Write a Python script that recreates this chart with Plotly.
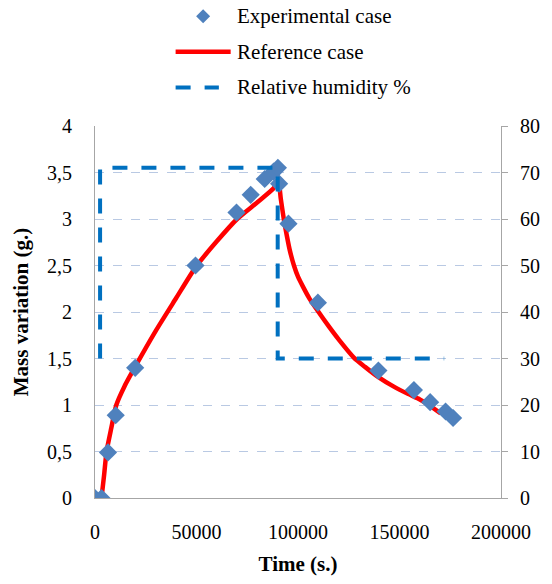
import plotly.graph_objects as go

# Measured mass variation (g.) against time (s.)
exp_time = [0, 3200, 6400, 10200, 19800, 49500, 69700, 76700, 83600, 88000, 90100, 90700,
            95300, 109800, 139600, 157100, 165100, 172700, 176400]
exp_mass = [0, 0, 0.49, 0.89, 1.40, 2.50, 3.07, 3.26, 3.43, 3.51, 3.55, 3.38,
            2.95, 2.10, 1.37, 1.16, 1.03, 0.93, 0.86]

# Simulated reference case
ref_time = [3200, 4500, 5700, 8000, 10500, 14500, 20000, 30000, 40000, 49500, 60000,
            70000, 80000, 88000, 90300, 91500, 93000, 94500, 96000, 98000, 100000, 102500,
            105500, 109800, 115000, 120200, 127500, 133000, 139600, 147000, 154100, 160000,
            163800, 170300]
ref_mass = [0, 0.25, 0.5, 0.75, 1.0, 1.2, 1.42, 1.8, 2.15, 2.48, 2.76,
            3.0, 3.18, 3.33, 3.41, 3.22, 3.0, 2.82, 2.66, 2.50, 2.38, 2.27,
            2.15, 2.01, 1.85, 1.70, 1.51, 1.41, 1.30, 1.20, 1.12, 1.06,
            1.01, 0.91]

# Imposed relative humidity (%)
rh_time = [2500, 2500, 90000, 90000, 172000]
rh_value = [30, 71, 71, 30, 30]

x_ticks = [0, 50000, 100000, 150000, 200000]
x_labels = ["0", "50000", "100000", "150000", "200000"]
y_ticks = [0, 0.5, 1, 1.5, 2, 2.5, 3, 3.5, 4]
y_labels = ["0", "0,5", "1", "1,5", "2", "2,5", "3", "3,5", "4"]
y2_ticks = [0, 10, 20, 30, 40, 50, 60, 70, 80]
y2_labels = ["0", "10", "20", "30", "40", "50", "60", "70", "80"]

SERIF = "'Times New Roman', 'Liberation Serif', serif"
MARKER_BLUE = "#4f81bd"
RH_BLUE = "#0070c0"
AXIS_GREY = "#a6a6a6"
GRID = "#b9c9e3"

fig = go.Figure()

fig.add_trace(go.Scatter(
    x=rh_time, y=rh_value, yaxis="y2", mode="lines",
    line=dict(color=RH_BLUE, width=4, dash="15px,14px"),
    name="Relative humidity %", showlegend=False,
))
fig.add_trace(go.Scatter(
    x=ref_time, y=ref_mass, mode="lines",
    line=dict(color="#ff0000", width=4.5, shape="spline", smoothing=0.6),
    name="Reference case", showlegend=False,
))
fig.add_trace(go.Scatter(
    x=exp_time, y=exp_mass, mode="markers",
    marker=dict(symbol="diamond", size=14, color=MARKER_BLUE),
    name="Experimental case", showlegend=False,
))

# Plot area geometry (pixels) used for the hand-drawn key above the axes
L, R, T, B = 95, 44, 126, 82
W, H = 552, 584
pw, ph = W - L - R, H - T - B


def px_x(px):
    return (px - L) / pw


def px_y(py):
    return (H - B - py) / ph


shapes = [
    dict(type="path", xref="paper", yref="paper",
         xsizemode="pixel", ysizemode="pixel",
         xanchor=px_x(205), yanchor=px_y(15),
         path="M0,7 L7,0 L0,-7 L-7,0 Z",
         fillcolor=MARKER_BLUE, line=dict(width=0)),
    dict(type="line", xref="paper", yref="paper",
         x0=px_x(177), x1=px_x(233), y0=px_y(51), y1=px_y(51),
         line=dict(color="#ff0000", width=4.5)),
    dict(type="line", xref="paper", yref="paper",
         x0=px_x(177), x1=px_x(221), y0=px_y(87), y1=px_y(87),
         line=dict(color=RH_BLUE, width=4, dash="15px,14px")),
]

key_labels = [("Experimental case", 15), ("Reference case", 51), ("Relative humidity %", 87)]
annotations = [
    dict(text=t, xref="paper", yref="paper", x=px_x(237), y=px_y(py),
         xanchor="left", yanchor="middle", showarrow=False,
         font=dict(family=SERIF, size=21, color="black"))
    for t, py in key_labels
]

fig.update_layout(
    width=W, height=H,
    margin=dict(l=L, r=R, t=T, b=B),
    paper_bgcolor="white", plot_bgcolor="white",
    font=dict(family=SERIF, size=20, color="black"),
    showlegend=False,
    shapes=shapes,
    annotations=annotations,
    xaxis=dict(
        range=[0, 200000], tickvals=x_ticks, ticktext=x_labels,
        showgrid=False, zeroline=False, showline=True, linecolor=AXIS_GREY, linewidth=1,
        ticks="", ticklabelstandoff=16,
        tickfont=dict(family=SERIF, size=20),
        title=dict(text="<b>Time (s.)</b>", font=dict(family=SERIF, size=21), standoff=14),
    ),
    yaxis=dict(
        range=[0, 4], tickvals=y_ticks, ticktext=y_labels,
        showgrid=True, gridcolor=GRID, griddash="dash", gridwidth=1,
        zeroline=False, showline=True, linecolor=AXIS_GREY, linewidth=1,
        ticks="", ticklabelstandoff=18,
        tickfont=dict(family=SERIF, size=20),
        title=dict(text="<b>Mass variation (g.)</b>", font=dict(family=SERIF, size=21), standoff=12),
    ),
    yaxis2=dict(
        range=[0, 80], tickvals=y2_ticks, ticktext=y2_labels,
        overlaying="y", side="right", showgrid=False, zeroline=False,
        showline=True, linecolor=AXIS_GREY, linewidth=1,
        ticks="outside", ticklen=6, tickcolor=AXIS_GREY, ticklabelstandoff=8,
        tickfont=dict(family=SERIF, size=20),
    ),
)

fig.write_html("out.html")
